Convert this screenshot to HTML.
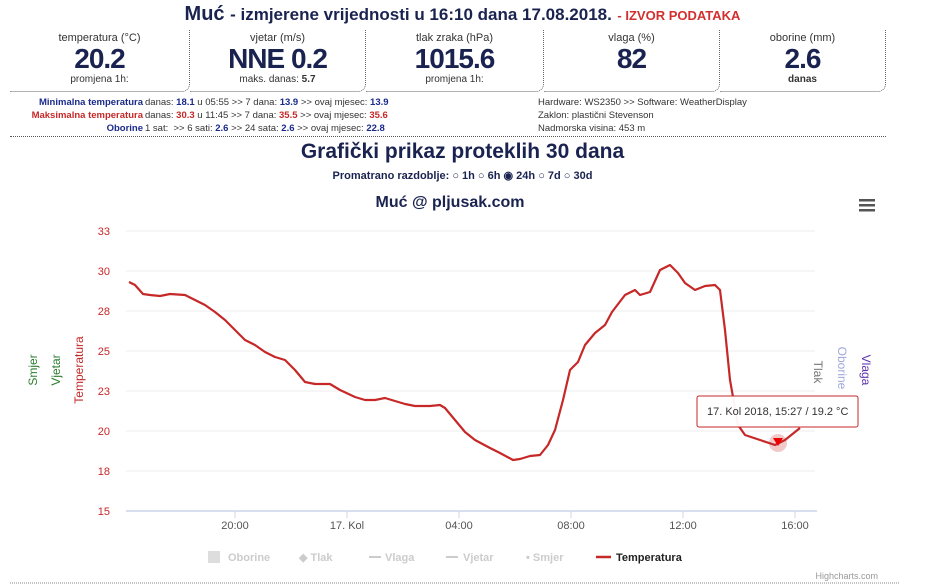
<!DOCTYPE html>
<html><head><meta charset="utf-8"><style>
*{margin:0;padding:0;box-sizing:border-box}
body{width:925px;height:588px;background:#fff;font-family:"Liberation Sans",sans-serif;position:relative;overflow:hidden;color:#1a2350}
.a{position:absolute}
.box{position:absolute;top:30px;height:62px;border-right:1px dotted #666;border-bottom:1px dotted #666;border-bottom-right-radius:8px;text-align:center}
.box .l{font-size:11px;color:#333;margin-top:2px}
.box .v{font-size:28px;font-weight:bold;color:#1a2350;line-height:30px;letter-spacing:-1px}
.box .s{font-size:10px;color:#333}
.st{font-size:9.5px;color:#333;line-height:13px}
b.bl{color:#1a2a8a}b.rd{color:#c62828}
</style></head><body>
<div class="a" style="left:0;top:3px;width:925px;text-align:center;font-size:20px;font-weight:bold;color:#1a2350">Muć <span style="font-size:17px">- izmjerene vrijednosti u 16:10 dana 17.08.2018.</span> <span style="font-size:13px;color:#d32f2f">- IZVOR PODATAKA</span></div>
<div class="box" style="left:10px;width:180px"><div class="l">temperatura (°C)</div><div class="v">20.2</div><div class="s">promjena 1h:</div></div>
<div class="box" style="left:190px;width:176px"><div class="l">vjetar (m/s)</div><div class="v">NNE 0.2</div><div class="s">maks. danas: <b>5.7</b></div></div>
<div class="box" style="left:366px;width:178px"><div class="l">tlak zraka (hPa)</div><div class="v">1015.6</div><div class="s">promjena 1h:</div></div>
<div class="box" style="left:544px;width:176px"><div class="l">vlaga (%)</div><div class="v">82</div></div>
<div class="box" style="left:720px;width:166px"><div class="l">oborine (mm)</div><div class="v">2.6</div><div class="s"><b>danas</b></div></div>
<div class="a st" style="left:0px;top:96px;width:143px;text-align:right"><b class="bl">Minimalna temperatura</b><br><b class="rd">Maksimalna temperatura</b><br><b class="bl">Oborine</b></div>
<div class="a st" style="left:145px;top:96px">danas: <b class="bl">18.1</b> u 05:55 &gt;&gt; 7 dana: <b class="bl">13.9</b> &gt;&gt; ovaj mjesec: <b class="bl">13.9</b><br>danas: <b class="rd">30.3</b> u 11:45 &gt;&gt; 7 dana: <b class="rd">35.5</b> &gt;&gt; ovaj mjesec: <b class="rd">35.6</b><br>1 sat: &nbsp;&gt;&gt; 6 sati: <b class="bl">2.6</b> &gt;&gt; 24 sata: <b class="bl">2.6</b> &gt;&gt; ovaj mjesec: <b class="bl">22.8</b></div>
<div class="a st" style="left:538px;top:96px">Hardware: WS2350 &gt;&gt; Software: WeatherDisplay<br>Zaklon: plastični Stevenson<br>Nadmorska visina: 453 m</div>
<div class="a" style="left:10px;top:136px;width:876px;border-top:1px dotted #555"></div>
<div class="a" style="left:0;top:140px;width:925px;text-align:center;font-size:21px;font-weight:bold">Grafički prikaz proteklih 30 dana</div>
<div class="a" style="left:0;top:169px;width:925px;text-align:center;font-size:11px;font-weight:bold">Promatrano razdoblje: ○ 1h ○ 6h ◉ 24h ○ 7d ○ 30d</div>
<svg class="a" style="left:0;top:0" width="925" height="588">
<text x="450" y="207" text-anchor="middle" font-size="16" font-weight="bold" fill="#1a2350">Muć @ pljusak.com</text>
<g fill="#555"><rect x="859" y="199" width="16" height="2.5"/><rect x="859" y="204" width="16" height="2.5"/><rect x="859" y="209" width="16" height="2.5"/></g>
<g stroke="#eee"><line x1="126" x2="815" y1="231" y2="231"/><line x1="126" x2="815" y1="271" y2="271"/><line x1="126" x2="815" y1="311" y2="311"/><line x1="126" x2="815" y1="351" y2="351"/><line x1="126" x2="815" y1="391" y2="391"/><line x1="126" x2="815" y1="431" y2="431"/><line x1="126" x2="815" y1="471" y2="471"/></g>
<line x1="126" x2="817" y1="511" y2="511" stroke="#ccd6eb" stroke-width="1.5"/>
<g stroke="#ccd6eb"><line x1="235" x2="235" y1="511" y2="518"/><line x1="347" x2="347" y1="511" y2="518"/><line x1="459" x2="459" y1="511" y2="518"/><line x1="571" x2="571" y1="511" y2="518"/><line x1="683" x2="683" y1="511" y2="518"/><line x1="795" x2="795" y1="511" y2="518"/></g>
<g font-size="11" fill="#c62828" text-anchor="end"><text x="110" y="235">33</text><text x="110" y="275">30</text><text x="110" y="315">28</text><text x="110" y="355">25</text><text x="110" y="395">23</text><text x="110" y="435">20</text><text x="110" y="475">18</text><text x="110" y="515">15</text></g>
<g font-size="11" fill="#555" text-anchor="middle"><text x="235" y="529">20:00</text><text x="347" y="529">17. Kol</text><text x="459" y="529">04:00</text><text x="571" y="529">08:00</text><text x="683" y="529">12:00</text><text x="795" y="529">16:00</text></g>
<g font-size="12"><text transform="translate(37,370) rotate(-90)" text-anchor="middle" fill="#2e7d32">Smjer</text><text transform="translate(60,370) rotate(-90)" text-anchor="middle" fill="#2e7d32">Vjetar</text><text transform="translate(83,370) rotate(-90)" text-anchor="middle" fill="#c62828">Temperatura</text>
<text transform="translate(814,372) rotate(90)" text-anchor="middle" fill="#777">Tlak</text><text transform="translate(838,368) rotate(90)" text-anchor="middle" fill="#9fa8da">Oborine</text><text transform="translate(862,370) rotate(90)" text-anchor="middle" fill="#5e35b1">Vlaga</text></g>
<polyline fill="none" stroke="#c62828" stroke-width="2.2" stroke-linejoin="round" points="129,282 135,285 143,294 150,295 160,296 170,294 185,295 195,300 205,305 215,312 225,320 235,330 245,340 255,345 265,352 275,357 285,360 295,370 305,382 315,384 330,384 340,390 355,397 365,400 375,400 385,398 395,401 405,404 415,406 430,406 440,405 445,408 455,420 465,432 475,440 490,448 500,453 513,460 520,459 530,456 540,455 548,445 555,430 563,400 570,370 578,362 585,345 595,333 605,325 612,312 625,295 635,290 640,295 650,292 660,270 670,265 678,273 685,283 695,290 705,286 715,285 720,290 725,330 730,380 738,425 745,435 760,440 775,445 785,440 800,428"/>
<circle cx="778" cy="443" r="9" fill="#c62828" opacity="0.25"/>
<path d="M773,438 L783,438 L778,446 Z" fill="#e00"/>
<rect x="697" y="396" width="161" height="31" fill="#fff" fill-opacity="0.95" stroke="#c62828" rx="2"/>
<text x="707" y="415" font-size="11" fill="#333">17. Kol 2018, 15:27 / 19.2 °C</text>
<rect x="208" y="551" width="12" height="12" fill="#ddd"/><text x="228" y="561" font-size="11" fill="#ccc" font-weight="bold">Oborine</text>
<text x="299" y="561" font-size="11" fill="#ccc" font-weight="bold">◆ Tlak</text>
<line x1="369" x2="381" y1="557" y2="557" stroke="#ccc" stroke-width="2"/><text x="385" y="561" font-size="11" fill="#ccc" font-weight="bold">Vlaga</text>
<line x1="446" x2="458" y1="557" y2="557" stroke="#ccc" stroke-width="2"/><text x="463" y="561" font-size="11" fill="#ccc" font-weight="bold">Vjetar</text>
<text x="526" y="561" font-size="11" fill="#ccc" font-weight="bold">• Smjer</text>
<line x1="596" x2="611" y1="557" y2="557" stroke="#c62828" stroke-width="2.5"/><text x="616" y="561" font-size="11" fill="#222" font-weight="bold">Temperatura</text>
<text x="878" y="579" font-size="9" fill="#999" text-anchor="end">Highcharts.com</text>
<line x1="10" x2="900" y1="583" y2="583" stroke="#888" stroke-dasharray="1,1"/>
</svg>
</body></html>
